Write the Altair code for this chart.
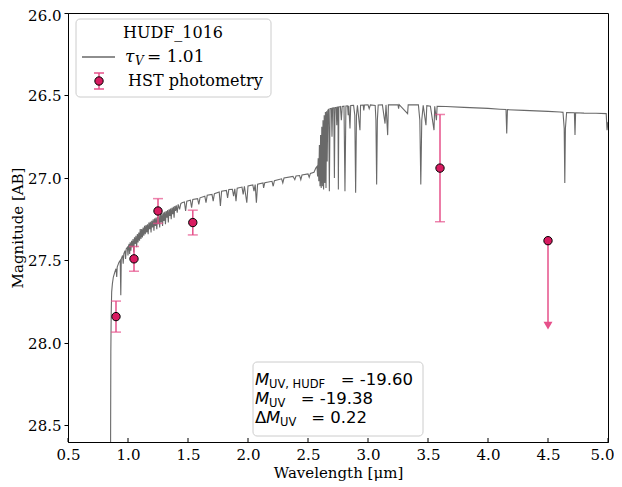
import altair as alt
import pandas as pd

# ---------------- data ----------------
# model spectrum (wavelength in micron, AB magnitude)
SPEC_WAVE_UV = [0.855, 0.857, 0.860, 0.864, 0.870, 0.878, 0.890, 0.900, 0.906, 0.910,
                0.925, 0.935, 0.940, 0.944, 0.955, 0.960, 0.965, 0.975, 0.980, 0.985,
                0.995, 1.000, 1.005]
SPEC_MAG_UV = [28.60, 28.05, 27.82, 27.69, 27.64, 27.60, 27.57, 27.55, 27.60, 27.54,
               27.51, 27.50, 27.71, 27.49, 27.47, 27.52, 27.46, 27.44, 27.49, 27.43,
               27.42, 27.47, 27.41]

SPEC_WAVE_FOREST = [1.010, 1.014, 1.018, 1.024, 1.030, 1.036, 1.042, 1.048, 1.054, 1.060,
                    1.066, 1.072, 1.078, 1.084, 1.090, 1.096, 1.102, 1.108, 1.114, 1.120,
                    1.126, 1.132, 1.138, 1.144, 1.150, 1.156, 1.162, 1.168, 1.174, 1.180,
                    1.186, 1.192, 1.198, 1.204, 1.210, 1.216, 1.222, 1.228, 1.234, 1.240,
                    1.246, 1.252, 1.258, 1.264, 1.270, 1.276, 1.282, 1.288, 1.294, 1.300,
                    1.306, 1.312, 1.318, 1.324, 1.330, 1.336, 1.342, 1.348, 1.354, 1.360,
                    1.366, 1.372, 1.378, 1.384, 1.390, 1.396, 1.402, 1.410, 1.418, 1.430,
                    1.440, 1.450]
SPEC_MAG_FOREST = [27.40, 27.46, 27.39, 27.44, 27.38, 27.42, 27.37, 27.45, 27.36, 27.40,
                   27.35, 27.42, 27.34, 27.39, 27.33, 27.38, 27.31, 27.37, 27.31, 27.36,
                   27.30, 27.35, 27.29, 27.34, 27.285, 27.33, 27.28, 27.34, 27.27, 27.31,
                   27.265, 27.33, 27.26, 27.30, 27.25, 27.32, 27.245, 27.29, 27.24, 27.31,
                   27.235, 27.28, 27.23, 27.30, 27.22, 27.27, 27.215, 27.29, 27.21, 27.26,
                   27.205, 27.28, 27.20, 27.24, 27.195, 27.27, 27.19, 27.23, 27.185, 27.25,
                   27.18, 27.22, 27.175, 27.24, 27.17, 27.20, 27.165, 27.21, 27.16, 27.19,
                   27.155, 27.15]

SPEC_WAVE_OPT = [1.47, 1.48, 1.49, 1.52, 1.53, 1.54, 1.58, 1.59, 1.60, 1.64,
                 1.65, 1.66, 1.70, 1.71, 1.72, 1.76, 1.77, 1.78, 1.82, 1.83,
                 1.84, 1.87, 1.88, 1.89, 1.90, 1.91, 1.95, 1.96, 1.97, 1.99,
                 2.00, 2.04, 2.05, 2.06, 2.07, 2.08, 2.125, 2.13, 2.14, 2.20,
                 2.21, 2.22, 2.28, 2.29, 2.30, 2.375, 2.39, 2.40, 2.43, 2.44,
                 2.45, 2.50, 2.51, 2.52, 2.55]
SPEC_MAG_OPT = [27.145, 27.20, 27.14, 27.135, 27.18, 27.13, 27.125, 27.16, 27.12, 27.11,
                27.15, 27.105, 27.10, 27.14, 27.095, 27.085, 27.17, 27.08, 27.075, 27.12,
                27.07, 27.068, 27.11, 27.065, 27.14, 27.062, 27.055, 27.10, 27.05, 27.15,
                27.048, 27.042, 27.08, 27.04, 27.15, 27.037, 27.03, 27.06, 27.028, 27.02,
                27.05, 27.017, 27.005, 27.03, 27.00, 26.99, 27.01, 26.988, 26.985, 27.01,
                26.982, 26.975, 26.995, 26.972, 26.965]

SPEC_WAVE_BREAK = [2.565, 2.575, 2.580, 2.585, 2.590, 2.595, 2.600, 2.605, 2.610, 2.615,
                   2.620, 2.625, 2.630, 2.635, 2.640, 2.645, 2.650, 2.655, 2.660, 2.665,
                   2.672, 2.678, 2.684, 2.695, 2.700, 2.705, 2.715, 2.720, 2.725, 2.735,
                   2.740, 2.745, 2.750, 2.753, 2.757, 2.770, 2.778, 2.785, 2.800, 2.808,
                   2.816, 2.830, 2.835, 2.840, 2.850, 2.856, 2.880, 2.890, 2.897, 2.904,
                   2.912, 2.933, 2.938, 2.960, 2.965, 2.970]
SPEC_MAG_BREAK = [26.94, 26.93, 26.99, 26.88, 27.02, 26.80, 27.05, 26.74, 27.06, 26.69,
                  27.05, 26.65, 27.07, 26.62, 27.03, 26.60, 27.06, 26.595, 26.90, 26.59,
                  26.585, 27.08, 26.58, 26.578, 26.75, 26.576, 26.575, 27.00, 26.574, 26.572,
                  26.68, 26.571, 26.57, 27.07, 26.57, 26.567, 26.65, 26.566, 26.565, 27.08,
                  26.563, 26.562, 26.62, 26.562, 26.70, 26.561, 26.560, 26.62, 27.09, 26.62,
                  26.560, 26.71, 26.559, 26.558, 26.59, 26.558]

SPEC_WAVE_IR = [3.000, 3.010, 3.020, 3.060, 3.066, 3.072, 3.078, 3.085, 3.120, 3.142,
                3.150, 3.164, 3.170, 3.250, 3.255, 3.260, 3.330, 3.335, 3.420, 3.432,
                3.440, 3.448, 3.460, 3.483, 3.490, 3.520, 3.550, 3.556, 3.570, 3.576,
                3.650, 3.800, 3.900, 4.000, 4.100, 4.150, 4.156, 4.162, 4.300, 4.400,
                4.500, 4.600, 4.625, 4.635, 4.640, 4.645, 4.655, 4.720, 4.725, 4.730,
                4.800, 4.900, 4.985, 4.992, 5.000]
SPEC_MAG_IR = [26.557, 26.58, 26.557, 26.560, 26.65, 27.04, 26.65, 26.558, 26.557, 26.67,
               26.557, 26.74, 26.557, 26.556, 26.58, 26.556, 26.61, 26.556, 26.557, 26.65,
               27.04, 26.65, 26.560, 26.68, 26.562, 26.565, 26.71, 26.566, 26.65, 26.566,
               26.567, 26.572, 26.575, 26.578, 26.583, 26.585, 26.73, 26.586, 26.59, 26.593,
               26.596, 26.60, 26.602, 26.70, 27.03, 26.70, 26.603, 26.605, 26.74, 26.605,
               26.607, 26.608, 26.61, 26.71, 26.66]

# HST photometry
PHOT_WAVE = [0.90, 1.05, 1.25, 1.54, 3.60]
PHOT_MAG = [27.84, 27.49, 27.20, 27.27, 26.94]
PHOT_ERR = [0.094, 0.075, 0.075, 0.075, 0.325]

# upper limit
LIM_WAVE = [4.50]
LIM_MAG = [27.38]
LIM_ARROW_MAG = [27.895]

X_TICKS = [0.5, 1.0, 1.5, 2.0, 2.5, 3.0, 3.5, 4.0, 4.5, 5.0]
Y_TICKS = [26.0, 26.5, 27.0, 27.5, 28.0, 28.5]

# ---------------- build ----------------
W, H = 540, 429
PINK = "#D81B60"
PINK_ERR = "#E6508A"
SERIF = "DejaVu Serif"
SANS = "DejaVu Sans"

wave = SPEC_WAVE_UV + SPEC_WAVE_FOREST + SPEC_WAVE_OPT + SPEC_WAVE_BREAK + SPEC_WAVE_IR
mag = SPEC_MAG_UV + SPEC_MAG_FOREST + SPEC_MAG_OPT + SPEC_MAG_BREAK + SPEC_MAG_IR
assert len(wave) == len(mag)
spec = pd.DataFrame({"wave": wave, "mag": mag, "idx": range(len(wave))})

phot = pd.DataFrame({"wave": PHOT_WAVE, "mag": PHOT_MAG, "err": PHOT_ERR})
phot["lo"] = phot["mag"] - phot["err"]
phot["hi"] = phot["mag"] + phot["err"]

lim = pd.DataFrame({"wave": LIM_WAVE, "mag": LIM_MAG, "arrow": LIM_ARROW_MAG})

xscale = alt.Scale(domain=[0.5, 5.0], nice=False, zero=False)
yscale = alt.Scale(domain=[26.0, 28.6], nice=False, zero=False, reverse=True)

xaxis = alt.Axis(values=X_TICKS, format=".1f", title="Wavelength [μm]", grid=False,
                 tickSize=0, labelPadding=5, titlePadding=3, labelFlush=False,
                 labelOffset={"condition": {"test": "datum.value >= 4.99", "value": -6},
                              "value": 0})
yaxis = alt.Axis(values=Y_TICKS, format=".1f", title="Magnitude [AB]", grid=False,
                 tickSize=4, labelPadding=3, titlePadding=2,
                 labelOffset={"condition": {"test": "datum.value <= 26.01", "value": 2.5},
                              "value": 0})

X = alt.X("wave:Q", scale=xscale, axis=xaxis)
Y = alt.Y("mag:Q", scale=yscale, axis=yaxis)

line = alt.Chart(spec).mark_line(color="#696969", strokeWidth=1.1, clip=True).encode(
    x=X, y=Y, order="idx:Q")

err = alt.Chart(phot).mark_rule(color=PINK_ERR, strokeWidth=1.5).encode(
    x=alt.X("wave:Q", scale=xscale), y=alt.Y("lo:Q", scale=yscale), y2="hi:Q")
cap_lo = alt.Chart(phot).mark_tick(color=PINK_ERR, orient="horizontal", size=10, thickness=1.5).encode(
    x=alt.X("wave:Q", scale=xscale), y=alt.Y("lo:Q", scale=yscale))
cap_hi = alt.Chart(phot).mark_tick(color=PINK_ERR, orient="horizontal", size=10, thickness=1.5).encode(
    x=alt.X("wave:Q", scale=xscale), y=alt.Y("hi:Q", scale=yscale))
pts = alt.Chart(phot).mark_point(filled=True, fill=PINK, stroke="black", strokeWidth=1,
                                 size=70, opacity=1).encode(
    x=alt.X("wave:Q", scale=xscale), y=alt.Y("mag:Q", scale=yscale))

lim_rule = alt.Chart(lim).mark_rule(color=PINK_ERR, strokeWidth=1.5).encode(
    x=alt.X("wave:Q", scale=xscale), y=alt.Y("mag:Q", scale=yscale), y2="arrow:Q")
lim_arrow = alt.Chart(lim).mark_point(shape="triangle-down", filled=True, color=PINK_ERR,
                                      size=80, opacity=1).encode(
    x=alt.X("wave:Q", scale=xscale), y=alt.Y("arrow:Q", scale=yscale))
lim_pt = alt.Chart(lim).mark_point(filled=True, fill=PINK, stroke="black", strokeWidth=1,
                                   size=70, opacity=1).encode(
    x=alt.X("wave:Q", scale=xscale), y=alt.Y("mag:Q", scale=yscale))

# inward x ticks
xt = pd.DataFrame({"t": X_TICKS})
xticks = alt.Chart(xt).mark_rule(color="black", strokeWidth=1).encode(
    x=alt.X("t:Q", scale=xscale), y=alt.value(H - 4), y2=alt.value(H))

one = pd.DataFrame({"a": [0]})


def txt(s, x, y, size=16, font=SERIF, style="normal", align="left", baseline="alphabetic"):
    return alt.Chart(one).mark_text(text=s, font=font, fontSize=size, fontStyle=style,
                                    align=align, baseline=baseline, color="black").encode(
        x=alt.value(x), y=alt.value(y))


# legend (pixel positions inside the plot area)
leg_box = alt.Chart(one).mark_rect(fill="white", fillOpacity=0.85, stroke="#cccccc",
                                   strokeWidth=1, cornerRadius=4).encode(
    x=alt.value(8), x2=alt.value(203), y=alt.value(6), y2=alt.value(84))
leg_line = alt.Chart(one).mark_rule(color="#696969", strokeWidth=1.3).encode(
    x=alt.value(14), x2=alt.value(47), y=alt.value(44))
leg_err = alt.Chart(one).mark_rule(color=PINK_ERR, strokeWidth=1.5).encode(
    x=alt.value(31), y=alt.value(60), y2=alt.value(76))
leg_cap1 = alt.Chart(one).mark_rule(color=PINK_ERR, strokeWidth=1.5).encode(
    x=alt.value(26), x2=alt.value(36), y=alt.value(60))
leg_cap2 = alt.Chart(one).mark_rule(color=PINK_ERR, strokeWidth=1.5).encode(
    x=alt.value(26), x2=alt.value(36), y=alt.value(76))
leg_pt = alt.Chart(one).mark_point(filled=True, fill=PINK, stroke="black", strokeWidth=1,
                                   size=70, opacity=1).encode(x=alt.value(31), y=alt.value(68))

legend = [leg_box,
          txt("HUDF_1016", 105, 25, align="center"),
          leg_line,
          txt("τ", 57, 49, size=17, style="italic"),
          txt("V", 67, 52, size=12, style="italic"),
          txt("= 1.01", 79, 49, size=17),
          leg_err, leg_cap1, leg_cap2, leg_pt,
          txt("HST photometry", 60, 73)]

# annotation box
ann_box = alt.Chart(one).mark_rect(fill="white", fillOpacity=0.85, stroke="#cccccc",
                                   strokeWidth=1, cornerRadius=4).encode(
    x=alt.value(185), x2=alt.value(355), y=alt.value(349), y2=alt.value(423))
ann = [ann_box,
       txt("M", 187, 372, size=16.5, font=SANS, style="italic"),
       txt("UV, HUDF", 201, 375, size=11.5, font=SANS),
       txt("= -19.60", 345, 372, size=16.5, font=SANS, align="right"),
       txt("M", 187, 391, size=16.5, font=SANS, style="italic"),
       txt("UV", 201, 394, size=11.5, font=SANS),
       txt("= -19.38", 305, 391, size=16.5, font=SANS, align="right"),
       txt("Δ", 187, 410, size=16.5, font=SANS),
       txt("M", 198, 410, size=16.5, font=SANS, style="italic"),
       txt("UV", 212, 413, size=11.5, font=SANS),
       txt("= 0.22", 299, 410, size=16.5, font=SANS, align="right")]

chart = alt.layer(line, err, cap_lo, cap_hi, pts, lim_rule, lim_arrow, lim_pt, xticks,
                  *legend, *ann).properties(
    width=W, height=H,
    autosize=alt.AutoSizeParams(type="none"),
    padding={"left": 60, "top": 5, "right": 6, "bottom": 40},
).configure_view(stroke="black", strokeWidth=1).configure_axis(
    labelFont=SERIF, titleFont=SERIF, labelFontSize=15, titleFontSize=15,
    labelColor="black", titleColor="black", domainColor="black", tickColor="black",
    titleFontWeight="normal", domainWidth=1, tickWidth=1)

chart.save("out.html", embed_options={"renderer": "svg", "actions": False})
